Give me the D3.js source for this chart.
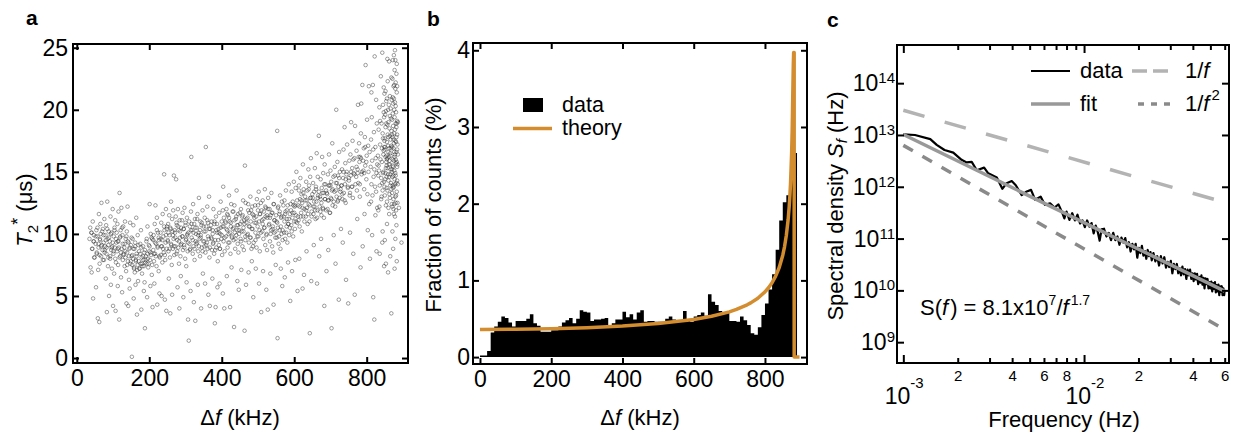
<!DOCTYPE html>
<html><head><meta charset="utf-8">
<script src="https://cdn.jsdelivr.net/npm/d3@7"></script>
<style>
body{margin:0;background:#fff}
svg{display:block}
text{font-family:"Liberation Sans",Arial,Helvetica,sans-serif;fill:#000}
</style></head>
<body><svg id="chart" width="1238" height="434"></svg>
<script>
// ---------- Panel a: T2* vs Δf (kHz, μs) ----------
const t2Data = [
[35,9.6],[38,7.3],[40,10.1],[42,8.8],[44,11.0],[46,9.4],[48,8.1],[41,6.9],[47,9.9],[37,10.5],[45,4.8],
[52,9.2],[54,10.3],[55,8.4],[57,9.8],[58,3.2],[60,8.9],[61,11.6],[63,7.6],[64,9.5],[66,10.0],[67,8.2],[68,12.5],[69,9.1],[53,5.7],[59,7.1],[62,2.9],[65,10.8],
[71,8.7],[72,10.4],[74,9.3],[75,7.9],[76,11.2],[77,8.5],[79,9.9],[80,6.4],[81,10.7],[82,8.9],[84,12.6],[85,9.6],[86,7.4],[87,8.1],[88,10.2],[89,5.0],[83,3.7],[78,9.0],
[91,9.4],[92,8.0],[93,11.4],[95,8.7],[96,10.1],[97,7.2],[98,9.0],[99,12.0],[101,8.4],[102,9.8],[103,6.8],[104,10.5],[105,8.9],[106,11.1],[108,7.7],[109,9.3],[100,4.2],[107,3.8],[94,5.9],
[111,8.6],[112,10.8],[113,9.4],[114,7.5],[115,11.8],[116,8.9],[118,13.3],[119,9.7],[120,8.2],[121,10.3],[122,6.5],[123,12.1],[124,8.8],[126,9.9],[127,7.9],[128,10.6],[129,8.4],[117,3.1],[125,5.3],[113,5.8],
[131,8.9],[132,7.4],[133,11.0],[134,8.1],[135,9.6],[136,7.0],[138,10.2],[139,8.5],[140,12.2],[141,7.8],[143,9.3],[144,6.3],[145,8.8],[147,10.9],[148,7.6],[149,9.1],[137,4.4],[146,5.6],[142,4.2],
[151,8.2],[152,0.1],[153,7.5],[154,9.6],[155,8.0],[156,10.7],[158,7.2],[159,8.8],[160,6.9],[161,9.3],[163,7.8],[164,11.3],[165,8.4],[167,7.1],[168,9.9],[169,6.2],[157,4.8],[162,5.9],[166,3.5],
[171,7.8],[172,8.6],[173,7.2],[175,9.2],[176,7.6],[177,10.3],[179,8.1],[180,6.8],[181,7.4],[183,9.0],[184,7.9],[186,8.5],[187,6.1],[189,7.7],[178,3.9],[185,5.4],[188,2.4],
[191,8.2],[192,9.4],[193,7.6],[195,10.6],[196,8.0],[197,7.3],[199,9.1],[200,8.6],[201,12.4],[202,7.9],[204,10.0],[205,8.3],[207,6.7],[208,9.6],[194,4.9],[203,5.8],[209,4.1],
[211,8.7],[212,9.9],[213,7.8],[215,10.8],[216,8.4],[217,12.3],[219,9.2],[220,7.4],[221,11.3],[223,8.9],[224,10.1],[226,7.0],[227,9.5],[229,8.1],[214,6.0],[222,4.3],[228,5.2],
[231,9.6],[232,8.3],[233,10.9],[235,9.0],[236,7.7],[237,11.6],[239,9.8],[240,8.5],[241,14.8],[242,10.3],[244,7.9],[245,9.3],[246,12.0],[248,8.8],[249,10.6],[234,5.0],[243,4.7],[247,3.8],
[251,9.4],[252,10.8],[253,8.6],[255,11.5],[256,9.9],[257,8.1],[259,10.4],[260,12.6],[261,9.1],[262,7.5],[264,10.2],[265,8.8],[266,11.9],[267,9.6],[268,14.7],[269,8.3],[254,6.4],[263,5.1],[258,3.6],
[271,10.1],[272,9.0],[273,11.4],[275,8.4],[276,10.7],[277,9.5],[279,12.0],[280,8.9],[281,10.3],[282,7.6],[284,11.1],[285,9.7],[286,8.2],[288,10.5],[289,9.2],[274,14.4],[278,5.7],[283,4.0],[287,6.6],
[291,9.8],[292,11.7],[293,8.7],[295,10.4],[296,9.1],[297,12.1],[299,8.0],[300,10.9],[301,9.5],[302,7.4],[304,11.3],[305,9.9],[306,8.6],[308,10.1],[309,1.4],[294,4.9],[303,6.1],[307,3.1],
[311,9.2],[312,10.6],[313,8.8],[315,11.8],[316,16.2],[317,9.7],[319,10.3],[320,8.4],[321,12.4],[322,9.0],[324,10.8],[325,7.9],[326,11.2],[328,9.4],[329,10.0],[314,5.4],[323,4.5],[327,3.0],
[331,10.5],[332,9.3],[333,11.6],[335,8.6],[336,10.1],[337,12.9],[339,9.6],[340,8.2],[341,11.0],[342,9.9],[344,10.7],[345,8.9],[347,11.9],[349,9.4],[334,5.9],[343,4.0],[348,6.8],
[351,10.2],[352,9.0],[353,11.3],[355,8.5],[356,17.0],[357,10.6],[359,9.3],[360,12.2],[361,8.8],[362,10.9],[364,9.6],[365,13.0],[366,8.1],[368,10.4],[354,6.0],[363,5.1],[367,4.2],
[371,9.7],[372,11.0],[373,8.7],[375,10.3],[376,9.2],[377,12.0],[379,8.4],[380,10.8],[381,2.8],[382,9.5],[384,11.4],[385,8.9],[387,10.1],[389,7.8],[374,6.4],[383,4.1],[388,5.7],
[391,10.4],[392,9.1],[393,11.7],[395,8.8],[396,10.0],[397,12.6],[399,9.6],[400,11.0],[401,8.3],[402,10.6],[404,13.8],[405,9.4],[406,11.3],[408,8.6],[394,6.0],[403,5.2],[407,4.0],
[411,10.9],[412,9.8],[413,12.0],[415,10.3],[416,8.9],[417,11.5],[419,10.0],[420,13.1],[421,9.3],[422,11.0],[424,8.4],[425,10.6],[426,12.4],[428,9.7],[414,6.6],[423,4.1],[427,7.3],
[431,10.4],[432,11.8],[433,9.5],[435,12.3],[436,10.1],[437,8.8],[439,11.2],[440,9.9],[441,13.5],[442,10.7],[444,9.2],[445,11.6],[446,8.5],[448,10.3],[434,2.5],[443,6.2],[447,5.5],
[451,10.8],[452,9.6],[453,12.0],[455,10.2],[456,11.4],[457,9.0],[459,12.7],[460,10.5],[461,8.7],[462,11.1],[464,15.5],[465,9.8],[466,12.5],[468,10.9],[454,7.1],[463,2.2],[467,5.9],
[471,11.3],[472,10.0],[473,12.4],[475,9.3],[476,11.7],[477,10.6],[479,13.0],[480,9.7],[481,11.9],[482,8.8],[484,12.2],[485,10.4],[486,9.0],[488,11.5],[474,6.9],[483,7.8],[487,4.9],
[491,10.9],[492,12.3],[493,9.5],[495,11.4],[496,8.9],[497,12.8],[499,10.6],[500,11.9],[501,9.8],[502,13.4],[504,10.3],[505,8.6],[506,11.6],[508,12.5],[494,7.2],[503,6.0],[509,3.7],
[511,11.1],[512,10.2],[513,12.7],[515,9.6],[516,11.8],[517,10.5],[519,13.6],[520,9.1],[521,11.4],[522,12.1],[524,10.0],[525,8.7],[526,11.3],[528,12.9],[514,7.0],[523,5.5],[527,3.9],
[531,10.8],[532,12.0],[533,9.4],[535,11.5],[536,10.3],[537,13.3],[539,9.0],[540,11.7],[541,10.6],[542,8.5],[544,12.4],[545,10.1],[546,11.1],[548,9.7],[534,6.8],[543,4.3],[549,7.5],
[551,11.0],[552,9.7],[553,18.3],[555,10.5],[556,12.2],[557,9.2],[559,11.6],[560,10.3],[561,13.1],[562,8.8],[564,11.3],[565,10.0],[566,12.6],[568,9.5],[554,1.6],[563,7.2],[567,5.8],
[571,11.4],[572,10.1],[573,12.7],[575,9.6],[576,11.8],[577,13.5],[579,10.6],[580,11.2],[581,9.3],[582,12.3],[584,10.8],[585,14.0],[586,9.9],[588,11.6],[574,6.5],[583,7.7],[589,4.6],
[591,11.9],[592,10.7],[593,13.4],[595,11.3],[596,12.6],[597,9.8],[599,14.2],[600,11.0],[601,12.2],[602,10.4],[604,13.7],[605,11.5],[606,15.0],[608,10.9],[594,7.0],[603,7.9],[609,5.4],
[611,12.3],[612,11.1],[613,13.9],[615,10.6],[616,12.8],[617,14.5],[619,11.7],[620,13.2],[621,10.2],[622,12.5],[624,15.6],[625,11.4],[626,13.6],[628,12.0],[614,8.0],[623,5.6],[627,6.7],
[631,12.7],[632,11.4],[633,14.2],[635,12.1],[636,13.5],[637,10.8],[639,15.2],[640,12.4],[641,13.9],[642,11.0],[644,14.6],[645,12.9],[646,16.1],[648,11.8],[634,8.6],[643,2.0],[647,6.2],
[651,12.9],[652,14.1],[653,11.6],[655,13.4],[656,12.2],[657,15.3],[659,11.2],[660,13.8],[661,12.6],[662,16.5],[664,11.9],[665,14.6],[666,13.1],[668,17.9],[654,9.1],[663,6.0],[669,8.2],
[671,13.0],[672,11.8],[673,14.4],[675,12.5],[676,13.7],[677,16.2],[679,12.1],[680,14.9],[681,13.3],[682,11.3],[684,15.6],[685,12.8],[686,14.0],[688,13.5],[674,9.6],[683,4.2],[689,7.0],
[691,13.2],[692,12.0],[693,14.8],[695,12.7],[696,16.4],[697,13.9],[699,11.7],[700,15.1],[701,12.9],[702,14.2],[704,13.5],[705,17.3],[706,12.3],[708,14.6],[694,8.7],[703,2.4],[709,9.9],
[711,13.4],[712,15.4],[713,12.2],[715,14.1],[716,20.0],[717,13.0],[719,15.8],[720,12.6],[721,14.7],[722,13.8],[724,16.6],[725,12.9],[726,15.0],[728,13.6],[714,7.6],[723,4.7],[729,10.4],
[731,13.9],[732,15.2],[733,12.8],[735,14.5],[736,16.8],[737,13.3],[739,18.6],[740,14.0],[741,15.7],[742,12.5],[744,14.8],[746,17.2],[748,13.7],[734,9.3],[743,6.3],[749,4.4],
[751,14.3],[752,15.9],[753,13.1],[755,16.4],[756,14.7],[757,19.0],[759,13.8],[760,15.3],[761,17.5],[762,12.9],[764,14.9],[766,16.1],[768,18.7],[754,10.1],[763,8.4],[767,5.1],
[771,14.6],[772,16.7],[773,13.5],[775,15.2],[776,20.4],[777,14.1],[779,17.3],[780,15.8],[781,13.0],[782,16.2],[784,18.1],[786,14.8],[788,22.0],[774,11.2],[783,7.3],[789,9.0],[785,20.5],
[791,15.1],[792,16.9],[793,13.6],[795,17.8],[796,15.5],[797,23.6],[799,14.4],[800,16.3],[801,19.2],[802,13.2],[804,17.1],[805,15.0],[806,21.9],[808,16.6],[794,11.6],[803,10.3],[809,8.0],[807,12.4],
[811,15.4],[812,17.6],[813,14.0],[814,19.4],[815,15.9],[816,13.1],[817,22.0],[818,16.8],[819,14.6],[820,18.2],[821,15.2],[822,24.3],[823,13.8],[824,17.0],[825,16.1],[826,20.8],[827,14.9],[828,18.9],[829,15.6],[812,12.6],[815,9.9],[818,4.9],[821,3.1],[824,11.5],[827,8.6],[829,12.1],[813,21.4],[826,13.4],
[831,16.3],[832,14.7],[833,18.4],[834,15.1],[835,20.2],[836,13.9],[837,17.2],[838,16.0],[839,22.7],[840,14.5],[841,18.9],[842,15.8],[843,24.6],[844,13.5],[845,17.7],[846,16.4],[847,19.8],[848,14.2],[849,21.3],[832,11.9],[836,8.4],[840,12.8],[844,10.2],[848,7.4],[833,15.5],[837,19.1],[841,13.0],[845,14.9],[849,17.5],[835,12.2],[843,9.3],[847,21.8],
[850,16.8],[851,14.4],[852,18.6],[853,15.3],[854,20.7],[855,13.7],[856,17.4],[857,16.1],[858,22.3],[859,14.8],[860,19.0],[861,15.6],[862,23.9],[863,13.2],[864,17.9],[865,16.5],[866,20.1],[867,14.1],[868,18.3],[869,15.0],
[850,13.1],[852,21.5],[854,15.8],[856,12.6],[858,18.0],[860,14.3],[862,16.9],[864,12.9],[866,17.6],[868,13.6],[851,19.6],[853,12.3],[855,16.3],[857,24.1],[859,17.1],[861,20.4],[863,15.9],[865,13.9],[867,19.3],[869,12.4],
[850,9.5],[853,7.6],[856,10.8],[859,6.9],[862,11.6],[865,8.2],[868,3.6],[855,14.6],[860,16.6],[864,21.1],[857,18.8],[866,15.2],
[870,17.0],[871,14.6],[872,19.7],[873,15.4],[874,21.9],[875,13.8],[876,18.1],[877,16.2],[878,24.8],[879,14.9],[880,20.3],[881,15.7],[882,17.8],[883,13.4],[884,19.1],
[870,13.3],[871,22.5],[872,16.0],[873,18.7],[874,12.8],[875,20.9],[876,15.1],[877,23.2],[878,14.0],[879,17.5],[880,12.5],[881,19.8],[882,16.6],[883,21.4],[884,14.3],
[870,19.2],[871,12.2],[872,15.5],[873,20.5],[874,16.9],[875,17.3],[876,12.4],[877,14.4],[878,18.4],[879,21.7],[880,16.0],[881,13.1],[882,22.9],[883,15.8],[884,18.0],
[870,15.2],[872,24.0],[874,14.7],[876,20.0],[878,16.4],[880,18.9],[882,14.1],[884,16.8],
[871,10.2],[873,8.8],[875,11.6],[877,7.2],[879,9.6],[881,11.9],[883,7.8],[885,12.5],[886,14.0],[874,12.0],[878,11.4],[882,10.7],[896,9.3],[889,12.1]
];
// denser core of the band
const t2Core = [
[41,10.1],[43,8.8],[47,9.4],[49,8.1],[52,9.8],[55,8.5],[57,10.5],[60,9.2],[63,8.3],[64,9.6],[67,9.0],[70,10.2],[72,7.9],[74,9.9],[77,8.7],[80,9.5],[82,8.4],[84,10.4],[87,9.1],[89,9.7],[92,8.2],[94,10.0],[96,8.9],[99,9.3],[101,8.6],[104,10.3],[106,8.0],[108,9.6],[110,10.1],[113,8.8],[115,9.4],[118,8.1],[120,9.8],[122,8.5],[125,10.5],[127,9.2],[129,8.3],
[132,9.2],[134,8.6],[137,9.8],[139,7.5],[141,9.4],[144,8.2],[146,8.9],[149,7.8],[151,9.7],[153,8.3],[156,8.8],[158,7.3],[161,9.0],[163,7.9],[165,8.2],[168,7.5],[170,9.1],[173,7.2],[175,8.4],[178,8.9],[180,7.6],[183,8.2],[185,7.4],[188,8.7],[190,7.9],[193,9.6],[195,8.4],[198,7.6],
[201,9.0],[203,8.5],[206,9.7],[208,7.5],[211,9.5],[213,8.4],[216,9.3],[218,8.2],[221,10.3],[223,9.0],[226,9.7],[228,8.2],[231,10.1],[233,9.0],[236,9.5],[238,8.8],[241,10.6],[243,8.3],[246,9.9],[248,10.4],
[251,9.5],[253,10.1],[256,8.8],[258,10.5],[260,9.2],[263,11.2],[265,9.9],[268,9.0],[270,10.3],[272,9.7],[275,10.9],[277,8.6],[280,10.6],[282,9.4],[285,10.2],[287,9.1],[290,11.1],[292,9.8],[295,10.4],[297,8.9],[300,10.7],[302,9.6],[305,10.0],[307,9.3],[310,11.0],[312,8.7],[315,10.3],[317,10.8],[320,9.5],[322,10.1],[325,8.8],[327,10.5],[330,9.2],[332,11.2],[335,9.9],[337,9.0],[340,10.3],[342,9.7],[345,10.9],[347,8.6],[350,10.6],[352,9.4],[355,10.2],[357,9.1],[360,11.1],[362,9.8],[365,10.4],[367,8.9],[370,10.7],[372,9.6],[375,10.0],[377,9.3],[380,11.0],[382,8.7],[385,10.3],[387,10.8],[390,9.5],[392,10.1],[395,8.8],[397,10.5],
[400,9.9],[403,11.9],[405,10.6],[408,9.7],[410,11.0],[413,10.4],[415,11.6],[418,9.3],[420,11.3],[423,10.1],[425,10.9],[428,9.8],[430,11.8],[433,10.5],[435,11.1],[438,9.6],[440,11.4],[443,10.3],[445,10.7],[448,10.0],[450,11.7],[453,9.4],[455,11.0],[458,11.5],[460,10.2],[463,10.8],[465,9.5],[468,11.2],[470,9.9],[473,11.9],[475,10.6],[478,9.7],[480,11.0],[483,10.4],[485,11.6],[488,9.3],[490,11.3],[493,10.1],[495,10.9],[498,9.8],
[500,12.3],[503,11.0],[505,11.6],[508,10.1],[510,11.9],[513,10.8],[515,11.2],[518,10.5],[520,12.2],[523,9.9],[525,11.5],[528,12.0],[530,10.7],[533,11.3],[535,10.0],[538,11.7],[540,10.4],[543,12.4],[545,11.1],[548,10.2],[550,11.5],[553,10.9],[555,12.1],[558,9.8],[560,11.8],[563,10.6],[565,11.4],[568,10.3],[570,12.3],[573,11.0],[575,11.6],[578,10.1],[580,11.9],[583,10.8],[585,11.2],[588,10.5],[590,12.4],[593,10.2],[595,11.7],[598,12.3],
[600,11.7],[603,12.3],[605,11.0],[608,12.7],[610,11.4],[613,13.5],[615,12.2],[618,11.4],[620,12.7],[623,12.1],[625,13.3],[628,11.0],[630,13.0],[633,11.9],[635,12.7],[638,11.6],[640,13.6],[643,12.3],[645,12.9],[648,11.4],[650,13.2],[653,12.2],[655,12.6],[658,11.9],[660,13.6],[663,11.3],[665,12.9],[668,13.4],[670,12.2],[673,12.8],[675,11.5],[678,13.3],[680,12.0],[683,14.0],[685,12.8],[688,11.9],[690,13.3],[693,12.7],[695,13.9],[698,11.7],
[700,13.9],[703,12.8],[706,13.6],[709,12.6],[712,14.7],[715,13.5],[718,14.1],[721,12.7],[724,14.5],[727,13.4],[730,13.9],[733,13.2],[736,15.0],[739,12.7],[742,14.4],[745,15.0],[748,13.8],[751,14.5],[754,13.3],[757,15.0],[760,13.8],[763,16.0],[766,14.8],[769,14.0],[772,15.4],[775,14.9],[778,16.2],[781,14.0],[784,16.1],[787,15.0],[790,15.9],[793,14.9],[796,17.0],[799,15.8],
[842,16.9],[844,18.1],[846,15.0],[848,19.4],[850,17.7],[852,14.9],[854,18.9],[856,16.0],[858,15.3],[860,17.8],[862,14.6],[864,19.5],[866,16.3],[868,17.1],[870,18.0],[872,13.9],[874,17.6],[876,16.6],[878,20.6],[880,14.7],[882,18.6],[884,15.4],[885,17.2],[886,19.0],[843,14.1],[845,20.4],[847,16.7],[849,13.8],[851,17.0],[853,19.9],[855,15.5],[857,13.5],[859,20.0],[861,16.2],[863,18.5],[865,14.8],[867,16.9],[869,20.8],[871,17.8],[873,13.7],[875,15.9],[877,19.4],[879,13.0],[881,17.4],[883,18.9],[885,15.6],[886,16.4],[884,21.9],[880,22.2],[876,22.0],[872,21.0],[868,22.6],[864,15.6],[860,12.1],[856,20.9],[852,16.2],[848,17.0],[875,24.4],[879,24.0],[883,23.7]
];
const aXTicks = [0,200,400,600,800];
const aYTicks = [0,5,10,15,20,25];

// ---------- Panel b: histogram (10 kHz bins, %) + theory ----------
const histBinStart = [0,10,20,30,40,50,60,70,80,90,100,110,120,130,140,150,160,170,180,190,200,210,220,230,240,250,260,270,280,290,300,310,320,330,340,350,360,370,380,390,400,410,420,430,440,450,460,470,480,490,500,510,520,530,540,550,560,570,580,590,600,610,620,630,640,650,660,670,680,690,700,710,720,730,740,750,760,770,780,790,800,810,820,830,840,850,860,870,880];
const histPercent = [0.02,0.02,0.08,0.32,0.40,0.46,0.53,0.51,0.45,0.40,0.47,0.47,0.47,0.50,0.56,0.44,0.41,0.33,0.33,0.33,0.35,0.35,0.40,0.45,0.48,0.51,0.44,0.50,0.61,0.59,0.58,0.47,0.49,0.49,0.50,0.51,0.42,0.44,0.49,0.49,0.59,0.52,0.56,0.49,0.58,0.61,0.46,0.47,0.47,0.46,0.46,0.46,0.50,0.53,0.49,0.47,0.47,0.60,0.47,0.46,0.53,0.55,0.58,0.54,0.82,0.72,0.68,0.60,0.58,0.58,0.47,0.47,0.46,0.53,0.48,0.42,0.31,0.29,0.39,0.55,0.70,0.88,1.08,1.40,1.78,2.02,2.11,2.35,2.66];
const histEnd = 890;
const theoryX = [0,100,200,300,400,500,600,650,700,720,750,760,780,800,810,820,830,840,850,855,860,865,868,870,872,875,876.5,878,879.5,880.5,882,882,897];
const theoryY = [0.36,0.362,0.370,0.383,0.404,0.437,0.491,0.532,0.590,0.622,0.682,0.707,0.768,0.850,0.904,0.970,1.055,1.168,1.329,1.441,1.588,1.79,1.961,2.106,2.287,2.68,2.97,3.39,3.8,3.97,3.97,0.0,0.0];
const bXTicks = [0,200,400,600,800];
const bYTicks = [0,1,2,3,4];

// ---------- Panel c: spectral density ----------
const psdFreq_mHz = [1.00,1.16,1.41,1.53,1.69,1.89,2.10,2.24,2.39,2.55,2.80,2.95,3.29,3.53,3.73,3.98,4.19,4.52,4.82,5.09,5.36,5.75,6.08,6.49,6.86,7.22,7.53,7.78,
8.0,8.3,8.6,8.9,9.2,9.5,9.8,10.1,10.4,10.7,11.0,11.3,11.6,11.9,12.2,12.5,
12.9,13.3,13.7,14.1,14.5,14.9,15.3,15.7,16.1,16.5,16.9,17.3,17.7,18.1,18.5,18.9,19.3,19.7,20.1,20.5,20.9,21.3,21.7,22.1,22.5,22.9,23.3,23.7,
24.2,24.8,25.4,26.0,26.6,27.2,27.8,28.4,29.0,29.6,30.2,30.8,31.4,32.0,32.6,33.2,33.8,34.4,35.0,35.6,36.2,36.8,37.4,38.0,38.6,39.2,39.8,40.4,41.0,41.6,42.2,42.8,43.4,44.0,44.6,45.2,45.8,46.4,47.0,47.6,48.2,48.8,49.4,50.0,50.6,51.2,51.8,52.4,53.0,53.6,54.2,54.8,55.4,56.0,56.6,57.2,57.8,58.4,59.0,59.6,60.0];
const psdLog10 = [13.01,13.00,12.92,12.81,12.71,12.66,12.52,12.47,12.48,12.32,12.37,12.26,12.18,11.96,12.07,12.11,12.03,11.84,11.91,11.94,11.75,11.81,11.65,11.68,11.60,11.66,11.52,11.39,
11.52,11.36,11.49,11.35,11.46,11.29,11.35,11.22,11.35,11.23,11.30,11.10,11.25,11.13,10.96,11.18,
11.19,11.04,11.11,10.97,11.11,10.97,11.04,10.88,11.02,10.92,11.01,10.83,10.93,10.75,10.90,10.79,10.90,10.63,10.82,10.72,10.86,10.67,10.76,10.61,10.78,10.66,10.74,10.58,
10.72,10.56,10.66,10.48,10.66,10.52,10.64,10.44,10.55,10.45,10.57,10.33,10.51,10.41,10.51,10.33,10.43,10.29,10.46,10.31,10.41,10.22,10.40,10.29,10.40,10.22,10.33,10.18,10.33,10.21,10.32,10.12,10.26,10.15,10.29,10.11,10.24,10.04,10.23,10.12,10.22,10.04,10.16,10.04,10.17,9.98,10.14,10.03,10.16,9.96,10.10,9.98,10.11,9.91,10.08,9.97,10.08,9.91,10.04,9.91,10.01];
const fitF = [1e-3, 6e-2], fitS = [1.02e13, 9.67e9];
const invF_F = [1e-3, 6e-2], invF_S = [3.0e13, 5.0e11];
const invF2_F = [1e-3, 6e-2], invF2_S = [6.3e12, 1.75e9];
const cYTicks = [1e9,1e10,1e11,1e12,1e13,1e14];
const cXMajor = [1e-3,1e-2];
const cXMinor = [2e-3,3e-3,4e-3,5e-3,6e-3,7e-3,8e-3,9e-3,2e-2,3e-2,4e-2,5e-2,6e-2];

// =============== drawing ===============
const svg = d3.select('#chart');
const FS = 23, TS = 22;

function styleAxis(g, fs){
  g.select('.domain').remove();
  g.selectAll('.tick line').attr('stroke','#000').attr('stroke-width',2);
  g.selectAll('.tick text').attr('font-size',fs||FS).attr('fill','#000')
    .attr('font-family','"Liberation Sans",Arial,sans-serif');
}
function frame(x0,y0,x1,y1){
  svg.append('rect').attr('x',x0).attr('y',y0).attr('width',x1-x0).attr('height',y1-y0)
    .attr('fill','none').attr('stroke','#000').attr('stroke-width',2);
}
function linAxes(xs,ys,box,xt,yt,padL){
  const [x0,y0,x1,y1]=box;
  svg.append('g').attr('transform',`translate(0,${y1})`)
    .call(d3.axisBottom(xs).tickValues(xt).tickSize(-6).tickPadding(7).tickFormat(d3.format('d'))).call(g=>styleAxis(g));
  svg.append('g').attr('transform',`translate(0,${y0})`)
    .call(d3.axisTop(xs).tickValues(xt).tickSize(-6).tickFormat('')).call(g=>styleAxis(g));
  svg.append('g').attr('transform',`translate(${x0},0)`)
    .call(d3.axisLeft(ys).tickValues(yt).tickSize(-6).tickPadding(padL).tickFormat(d3.format('d'))).call(g=>styleAxis(g));
  svg.append('g').attr('transform',`translate(${x1},0)`)
    .call(d3.axisRight(ys).tickValues(yt).tickSize(-6).tickFormat('')).call(g=>styleAxis(g));
}

// ---- Panel a ----
{
  const box=[73,44,408,363];
  const xs=d3.scaleLinear().domain([-10.5,914]).range([box[0],box[2]]);
  const ys=d3.scaleLinear().domain([-0.4,25.3]).range([box[3],box[1]]);
  const g=svg.append('g');
  g.selectAll('circle').data(t2Data.concat(t2Core)).join('circle')
    .attr('cx',d=>xs(d[0])).attr('cy',d=>ys(d[1])).attr('r',1.8)
    .attr('fill','none').attr('stroke','#2a2a2a').attr('stroke-opacity',0.6).attr('stroke-width',0.75);
  linAxes(xs,ys,box,aXTicks,aYTicks,5);
  frame(...box);
  svg.append('text').attr('x',26).attr('y',25).attr('font-size',21).attr('font-weight','bold').text('a');
  const xt=svg.append('text').attr('x',240).attr('y',425).attr('text-anchor','middle').attr('font-size',TS);
  xt.append('tspan').text('Δ'); xt.append('tspan').attr('font-style','italic').text('f'); xt.append('tspan').text(' (kHz)');
  const yt=svg.append('text').attr('transform','translate(32,210) rotate(-90)').attr('text-anchor','middle').attr('font-size',TS);
  yt.append('tspan').attr('font-style','italic').text('T');
  yt.append('tspan').attr('font-size',15).attr('dy',6).text('2');
  yt.append('tspan').attr('font-size',18).attr('dy',-14).text('*');
  yt.append('tspan').attr('dy',8).text(' (μs)');
}

// ---- Panel b ----
{
  const box=[473,43,807,364];
  const xs=d3.scaleLinear().domain([-19.6,918]).range([box[0],box[2]]);
  const ys=d3.scaleLinear().domain([-0.09,4.095]).range([box[3],box[1]]);
  const bins=histBinStart.map((s,i)=>({s,v:histPercent[i]}));
  bins.push({s:histEnd,v:0});
  svg.append('path')
    .attr('d',d3.area().curve(d3.curveStepAfter).x(d=>xs(d.s)).y0(ys(0)).y1(d=>ys(d.v))(bins))
    .attr('fill','#000');
  const th=theoryX.map((x,i)=>[x,theoryY[i]]);
  svg.append('path').attr('d',d3.line().x(d=>xs(d[0])).y(d=>ys(d[1]))(th))
    .attr('fill','none').attr('stroke','#d38d2e').attr('stroke-width',3.5).attr('stroke-linejoin','round');
  linAxes(xs,ys,box,bXTicks,bYTicks,3);
  frame(...box);
  svg.append('text').attr('x',427).attr('y',26).attr('font-size',21).attr('font-weight','bold').text('b');
  svg.append('rect').attr('x',523).attr('y',98).attr('width',20).attr('height',14).attr('fill','#000');
  svg.append('text').attr('x',562).attr('y',112).attr('font-size',21.5).text('data');
  svg.append('line').attr('x1',513).attr('x2',552).attr('y1',128.5).attr('y2',128.5).attr('stroke','#d38d2e').attr('stroke-width',3.5);
  svg.append('text').attr('x',562).attr('y',135).attr('font-size',21.5).text('theory');
  const xt=svg.append('text').attr('x',640).attr('y',425).attr('text-anchor','middle').attr('font-size',TS);
  xt.append('tspan').text('Δ'); xt.append('tspan').attr('font-style','italic').text('f'); xt.append('tspan').text(' (kHz)');
  svg.append('text').attr('transform','translate(441,205) rotate(-90)').attr('text-anchor','middle').attr('font-size',TS).text('Fraction of counts (%)');
}

// ---- Panel c ----
{
  const box=[897,45,1229,363];
  const xs=d3.scaleLog().domain([Math.pow(10,-3.035),Math.pow(10,-1.198)]).range([box[0],box[2]]);
  const ys=d3.scaleLog().domain([Math.pow(10,8.598),Math.pow(10,14.737)]).range([box[3],box[1]]);
  const ln=d3.line().x(d=>xs(d[0])).y(d=>ys(d[1]));
  const g=svg.append('g');
  g.append('path').attr('d',ln(invF_F.map((f,i)=>[f,invF_S[i]])))
    .attr('fill','none').attr('stroke','#b3b3b3').attr('stroke-width',3.5).attr('stroke-dasharray','22,21');
  g.append('path').attr('d',ln(invF2_F.map((f,i)=>[f,invF2_S[i]])))
    .attr('fill','none').attr('stroke','#8a8a8a').attr('stroke-width',3.5).attr('stroke-dasharray','11,11');
  const pts=psdFreq_mHz.map((f,i)=>[f*1e-3,Math.pow(10,psdLog10[i])]);
  g.append('path').attr('d',ln(pts)).attr('fill','none').attr('stroke','#000').attr('stroke-width',2.2).attr('stroke-linejoin','round');
  g.append('path').attr('d',ln(fitF.map((f,i)=>[f,fitS[i]])))
    .attr('fill','none').attr('stroke','#999').attr('stroke-width',3.5);

  svg.append('g').attr('transform',`translate(0,${box[3]})`)
    .call(d3.axisBottom(xs).tickValues(cXMajor).tickSize(-8).tickFormat('')).call(g=>styleAxis(g));
  svg.append('g').attr('transform',`translate(0,${box[3]})`)
    .call(d3.axisBottom(xs).tickValues(cXMinor).tickSize(-5).tickPadding(7)
      .tickFormat(d=>{const m=Math.round(d/Math.pow(10,Math.floor(Math.log10(d)+1e-9)));return [2,4,6,8].includes(m)?String(m):'';}))
    .call(g=>styleAxis(g,15));
  svg.append('g').attr('transform',`translate(0,${box[1]})`)
    .call(d3.axisTop(xs).tickValues(cXMajor).tickSize(-8).tickFormat('')).call(g=>styleAxis(g));
  svg.append('g').attr('transform',`translate(0,${box[1]})`)
    .call(d3.axisTop(xs).tickValues(cXMinor).tickSize(-5).tickFormat('')).call(g=>styleAxis(g));
  svg.append('g').attr('transform',`translate(${box[0]},0)`)
    .call(d3.axisLeft(ys).tickValues(cYTicks).tickSize(-7).tickFormat('')).call(g=>styleAxis(g));
  svg.append('g').attr('transform',`translate(${box[2]},0)`)
    .call(d3.axisRight(ys).tickValues(cYTicks).tickSize(-7).tickFormat('')).call(g=>styleAxis(g));
  cYTicks.forEach(v=>{
    const t=svg.append('text').attr('x',895).attr('y',ys(v)+8).attr('text-anchor','end').attr('font-size',FS);
    t.append('tspan').text('10');
    t.append('tspan').attr('font-size',15).attr('dy',-8).text(String(Math.round(Math.log10(v))));
  });
  cXMajor.forEach(v=>{
    svg.append('text').attr('x',xs(v)+7).attr('y',404).attr('text-anchor','end').attr('font-size',FS).text('10');
    svg.append('text').attr('x',xs(v)+7).attr('y',388).attr('text-anchor','start').attr('font-size',15).text(String(Math.round(Math.log10(v))));
  });
  frame(...box);
  svg.append('text').attr('x',827).attr('y',27).attr('font-size',21).attr('font-weight','bold').text('c');
  svg.append('text').attr('x',1064).attr('y',427).attr('text-anchor','middle').attr('font-size',TS).text('Frequency (Hz)');
  const yt=svg.append('text').attr('transform','translate(843,206) rotate(-90)').attr('text-anchor','middle').attr('font-size',TS);
  yt.append('tspan').text('Spectral density ');
  yt.append('tspan').attr('font-style','italic').text('S');
  yt.append('tspan').attr('font-style','italic').attr('font-size',15).attr('dy',4).text('f');
  yt.append('tspan').attr('dy',-4).text(' (Hz)');
  // legend
  svg.append('line').attr('x1',1031).attr('x2',1070).attr('y1',71).attr('y2',71).attr('stroke','#000').attr('stroke-width',2);
  svg.append('text').attr('x',1080).attr('y',78).attr('font-size',TS).text('data');
  svg.append('line').attr('x1',1031).attr('x2',1070).attr('y1',104).attr('y2',104).attr('stroke','#999').attr('stroke-width',3.5);
  svg.append('text').attr('x',1080).attr('y',111).attr('font-size',TS).text('fit');
  svg.append('line').attr('x1',1132).attr('x2',1168).attr('y1',71).attr('y2',71).attr('stroke','#b3b3b3').attr('stroke-width',3.5).attr('stroke-dasharray','15,6');
  svg.append('line').attr('x1',1138).attr('x2',1170).attr('y1',104).attr('y2',104).attr('stroke','#8a8a8a').attr('stroke-width',3.5).attr('stroke-dasharray','6,7');
  const l1=svg.append('text').attr('x',1185).attr('y',78).attr('font-size',TS);
  l1.append('tspan').text('1/'); l1.append('tspan').attr('font-style','italic').text('f');
  const l2=svg.append('text').attr('x',1185).attr('y',111).attr('font-size',TS);
  l2.append('tspan').text('1/'); l2.append('tspan').attr('font-style','italic').text('f');
  l2.append('tspan').attr('font-size',15).attr('dy',-11).attr('dx',2).text('2');
  const an=svg.append('text').attr('x',920).attr('y',315).attr('font-size',TS);
  an.append('tspan').text('S(');
  an.append('tspan').attr('font-style','italic').text('f');
  an.append('tspan').attr('dx',2).text(') = 8.1x10');
  an.append('tspan').attr('font-size',14).attr('dy',-10).text('7');
  an.append('tspan').attr('dy',10).text('/');
  an.append('tspan').attr('font-style','italic').text('f');
  an.append('tspan').attr('font-size',14).attr('dy',-10).attr('dx',2).text('1.7');
}
</script></body></html>
